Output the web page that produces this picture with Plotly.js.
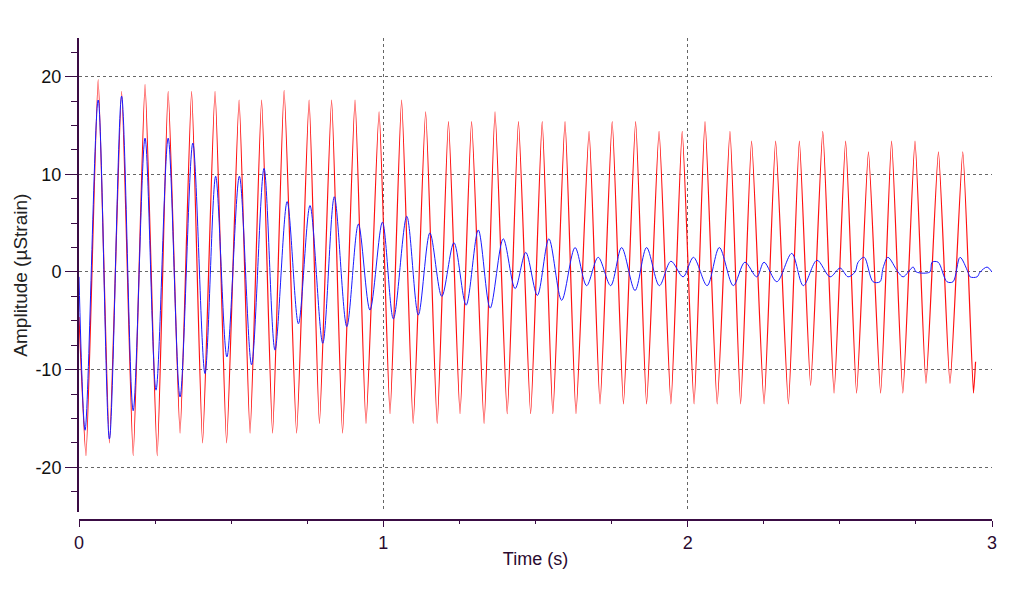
<!DOCTYPE html>
<html>
<head>
<meta charset="utf-8">
<script src="https://cdn.plot.ly/plotly-3.0.1.min.js"></script>
<style>
  html, body { margin: 0; padding: 0; background: #ffffff; }
  #chart { width: 1023px; height: 593px; }
</style>
</head>
<body>
<div id="chart"></div>
<script>
// Red series: peaks and troughs (time in s, amplitude in µStrain)
const redTime = [0.000, 0.023, 0.063, 0.100, 0.140, 0.178, 0.217, 0.257, 0.293, 0.332,
  0.370, 0.406, 0.447, 0.485, 0.526, 0.562, 0.600, 0.636, 0.674, 0.715,
  0.756, 0.790, 0.830, 0.866, 0.907, 0.943, 0.986, 1.022, 1.060, 1.098,
  1.139, 1.177, 1.214, 1.252, 1.290, 1.331, 1.367, 1.407, 1.444, 1.484,
  1.522, 1.557, 1.597, 1.633, 1.676, 1.712, 1.752, 1.789, 1.829, 1.865,
  1.906, 1.945, 1.982, 2.021, 2.057, 2.097, 2.139, 2.174, 2.210, 2.251,
  2.289, 2.331, 2.367, 2.404, 2.444, 2.481, 2.519, 2.555, 2.594, 2.634,
  2.670, 2.707, 2.747, 2.783, 2.824, 2.862, 2.904, 2.939, 2.946];
const redValue = [-4.6, -18.8, 19.7, -17.5, 18.5, -18.8, 19.2, -18.8, 18.5, -16.5,
  18.5, -17.5, 18.5, -17.5, 17.6, -16.5, 17.6, -16.5, 18.6, -16.5,
  17.6, -15.5, 17.6, -16.5, 17.6, -15.5, 16.4, -14.5, 17.6, -15.5,
  16.4, -15.5, 15.4, -14.5, 15.4, -15.5, 16.4, -14.5, 15.4, -14.5,
  15.4, -14.5, 15.4, -14.5, 14.4, -13.5, 15.4, -13.5, 15.4, -13.5,
  14.4, -13.5, 14.4, -13.5, 15.4, -13.5, 14.4, -13.5, 13.4, -13.5,
  13.4, -13.5, 13.4, -11.6, 14.4, -12.4, 13.4, -12.4, 12.3, -12.4,
  13.4, -12.4, 13.4, -11.4, 12.3, -11.4, 12.3, -12.4, -9.2];

// Blue series: peaks, troughs and plateau corners
const blueTime = [0.000, 0.020, 0.063, 0.100, 0.140, 0.178, 0.217, 0.253, 0.293, 0.332,
  0.374, 0.414, 0.449, 0.486, 0.527, 0.567, 0.608, 0.644, 0.684, 0.721,
  0.759, 0.801, 0.839, 0.880, 0.918, 0.956, 0.997, 1.033, 1.077, 1.115,
  1.153, 1.192, 1.232, 1.272, 1.312, 1.351, 1.394, 1.433, 1.468, 1.506,
  1.544, 1.586, 1.630, 1.668, 1.706, 1.747, 1.783, 1.827, 1.865, 1.907,
  1.945, 1.985, 2.019, 2.064, 2.104, 2.150, 2.188, 2.227, 2.251, 2.293,
  2.342, 2.380, 2.425, 2.468, 2.501, 2.527, 2.550, 2.560, 2.580, 2.609,
  2.632, 2.642, 2.658, 2.691, 2.708, 2.741, 2.751, 2.796, 2.803, 2.823,
  2.852, 2.872, 2.895, 2.921, 2.928, 2.951, 2.961, 2.984, 3.000];
const blueValue = [-0.5, -16.2, 17.6, -17.1, 18.0, -14.2, 13.7, -12.1, 13.7, -12.8,
  13.2, -10.4, 9.8, -8.7, 9.8, -9.5, 10.6, -8.0, 7.2, -5.3,
  6.8, -7.3, 7.7, -5.6, 4.9, -3.9, 5.1, -4.8, 5.7, -4.4,
  4.0, -2.5, 3.0, -3.4, 4.3, -3.7, 3.4, -1.7, 2.0, -2.4,
  3.4, -2.9, 2.5, -1.4, 1.5, -1.4, 2.5, -1.9, 2.5, -1.4,
  1.1, -0.5, 1.5, -1.4, 2.5, -1.4, 1.0, -0.5, 1.0, -1.0,
  1.9, -1.4, 1.2, -0.5, 0.4, -0.5, 0.0, 1.0, 1.5, -1.0,
  -1.0, 0.4, 1.5, 0.0, -0.5, 0.5, 0.0, 0.0, 1.0, 1.0,
  -1.0, -1.0, 1.5, 0.0, -0.5, -0.5, 0.0, 0.5, 0.0];

const xTickVals = [0, 1, 2, 3];
const xTickText = ['0', '1', '2', '3'];
const yTickVals = [-20, -10, 0, 10, 20];
const yTickText = ['-20', '-10', '0', '10', '20'];

const axisColor = '#3a0c44';
const gridColor = '#666666';
const fontFamily = 'Liberation Sans, Arial, sans-serif';

const traces = [
  {
    x: redTime, y: redValue, type: 'scatter', mode: 'lines',
    line: { color: '#ff1010', width: 1.2, shape: 'spline', smoothing: 0.5 },
    hoverinfo: 'skip', showlegend: false
  },
  {
    x: blueTime, y: blueValue, type: 'scatter', mode: 'lines',
    line: { color: '#1a1aff', width: 1, shape: 'spline', smoothing: 0.9 },
    hoverinfo: 'skip', showlegend: false
  }
];

const layout = {
  width: 1023, height: 593,
  margin: { l: 79, r: 31, t: 38, b: 73 },
  paper_bgcolor: '#ffffff', plot_bgcolor: '#ffffff',
  showlegend: false,
  font: { family: fontFamily, size: 18, color: '#111111' },
  xaxis: {
    range: [0, 3],
    anchor: 'free', position: 0,
    tickmode: 'array', tickvals: xTickVals, ticktext: xTickText,
    ticks: 'outside', ticklen: 6, tickwidth: 1, tickcolor: axisColor,
    tickfont: { family: fontFamily, size: 18, color: '#2a0a30' },
    minor: { tickmode: 'linear', tick0: 0, dtick: 0.25, ticks: 'outside', ticklen: 3, tickcolor: axisColor, showgrid: false },
    showline: true, linecolor: axisColor, linewidth: 2,
    showgrid: true, gridcolor: gridColor, griddash: 'dot', gridwidth: 1,
    zeroline: false,
    title: { text: 'Time (s)', font: { family: fontFamily, size: 18, color: '#2a0a30' }, standoff: 0 }
  },
  yaxis: {
    range: [-24.6, 23.95],
    domain: [0.016, 1],
    tickmode: 'array', tickvals: yTickVals, ticktext: yTickText,
    ticks: 'outside', ticklen: 12, tickwidth: 1, tickcolor: axisColor,
    tickfont: { family: fontFamily, size: 18, color: '#111111' },
    minor: { tickmode: 'linear', tick0: 0, dtick: 2.5, ticks: 'outside', ticklen: 6, tickcolor: axisColor, showgrid: false },
    showline: true, linecolor: axisColor, linewidth: 2,
    showgrid: true, gridcolor: gridColor, griddash: 'dot', gridwidth: 1,
    zeroline: false,
    title: { text: 'Amplitude (µStrain)', font: { family: fontFamily, size: 19, color: '#222222' }, standoff: 3 }
  }
};

Plotly.newPlot('chart', traces, layout, { staticPlot: true, displayModeBar: false });
</script>
</body>
</html>
